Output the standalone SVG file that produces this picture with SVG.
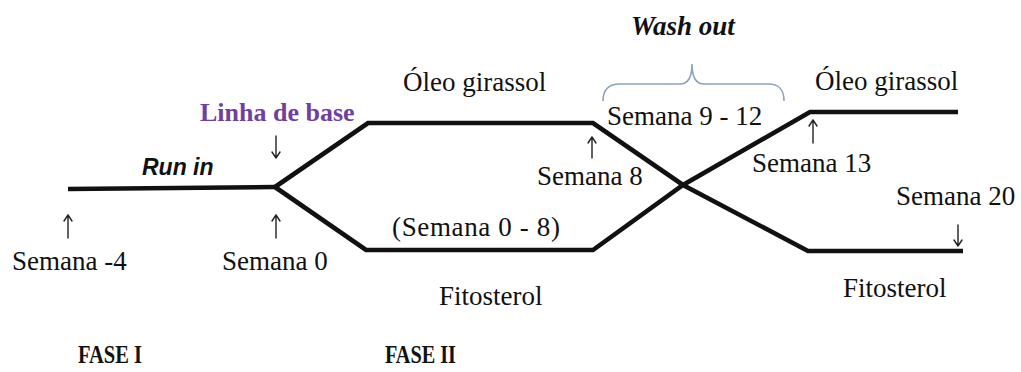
<svg xmlns="http://www.w3.org/2000/svg" width="1021" height="372" viewBox="0 0 1021 372">
  <style>
    .lbl { font-family: "Liberation Serif", "Times New Roman", serif; font-size: 27px; fill: #111; }
    .phase { font-family: "Liberation Serif", "Times New Roman", serif; font-size: 25px; font-weight: bold; fill: #111; }
    .track { fill: none; stroke: #111; stroke-width: 4.6; stroke-linejoin: miter; stroke-linecap: butt; }
    .brace { fill: none; stroke: #8fa2bd; stroke-width: 1.6; }
    .ptr { fill: none; stroke: #222; stroke-width: 1.4; stroke-linecap: round; stroke-linejoin: round; }
  </style>
  <rect width="1021" height="372" fill="#ffffff"/>

  <!-- study arms -->
  <g id="connectors">
    <path class="track" d="M68,189 L275,187"/>
    <path class="track" d="M275,187 L368,123 L593,123 L683,185 L808,251 L963,251"/>
    <path class="track" d="M275,187 L366,250 L593,250 L683,185 L810,112 L958,112"/>
  </g>

  <g id="run-in">
    <text x="142" y="175" style="font-family:'Liberation Sans', Arial, sans-serif;font-size:23px;font-weight:bold;font-style:italic;fill:#111">Run in</text>
    <path class="ptr" d="M68,238 V215 M64,221 L68,215 L72,221"/>
    <text class="lbl" x="12" y="270">Semana -4</text>
  </g>

  <g id="baseline">
    <text x="200" y="121" style="font-family:'Liberation Serif', 'Times New Roman', serif;font-size:26px;font-weight:bold;fill:#7040a0">Linha de base</text>
    <path class="ptr" d="M276,136 V158 M272,152 L276,158 L280,152"/>
    <path class="ptr" d="M276,238 V215 M272,221 L276,215 L280,221"/>
    <text class="lbl" x="222" y="270">Semana 0</text>
  </g>

  <g id="arm-oil-1">
    <text class="lbl" x="403" y="91">Óleo girassol</text>
  </g>

  <g id="arm-phyto-1">
    <text class="lbl" x="392" y="236" textLength="168">(Semana 0 - 8)</text>
    <text class="lbl" x="439" y="305">Fitosterol</text>
  </g>

  <g id="week-8">
    <path class="ptr" d="M592,158 V137 M588,143 L592,137 L596,143"/>
    <text class="lbl" x="537" y="185">Semana 8</text>
  </g>

  <g id="wash-out">
    <text x="631" y="35" style="font-family:'Liberation Serif', 'Times New Roman', serif;font-size:27px;font-weight:bold;font-style:italic;fill:#111">Wash out</text>
    <path class="brace" d="M603,101 C603,90 608,84 620,84 L680,84 C688,84 692,78 692,64 C692,78 696,84 704,84 L768,84 C780,84 784,90 784,101"/>
    <text class="lbl" x="607" y="125">Semana 9 - 12</text>
  </g>

  <g id="week-13">
    <path class="ptr" d="M813,143 V120 M809,126 L813,120 L817,126"/>
    <text class="lbl" x="752" y="172">Semana 13</text>
  </g>

  <g id="arm-oil-2">
    <text class="lbl" x="815" y="90">Óleo girassol</text>
  </g>

  <g id="week-20">
    <text class="lbl" x="896" y="205">Semana 20</text>
    <path class="ptr" d="M958,225 V246 M954,240 L958,246 L962,240"/>
  </g>

  <g id="arm-phyto-2">
    <text class="lbl" x="843" y="297">Fitosterol</text>
  </g>

  <g id="phases">
    <text class="phase" x="78" y="363" textLength="64" lengthAdjust="spacingAndGlyphs">FASE I</text>
    <text class="phase" x="385" y="363" textLength="71" lengthAdjust="spacingAndGlyphs">FASE II</text>
  </g>
</svg>
